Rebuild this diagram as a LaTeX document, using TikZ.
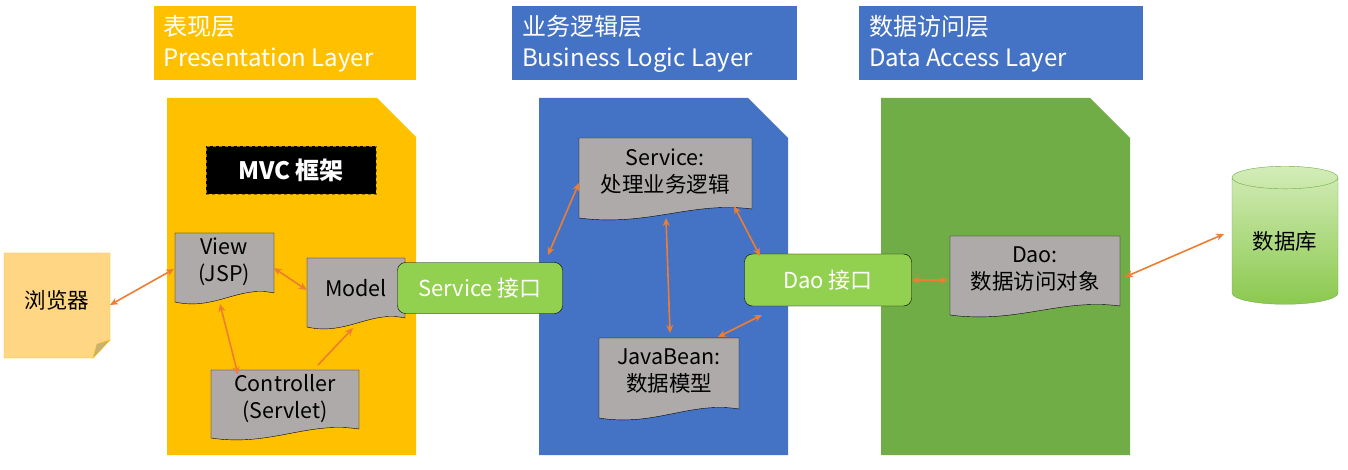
\documentclass[tikz,border=0pt]{standalone}
\usepackage{fontspec}
\setmainfont{Noto Sans CJK SC}
\usetikzlibrary{arrows.meta,shapes.geometric}
\definecolor{ylw}{HTML}{FFC000}
\definecolor{blu}{HTML}{4472C4}
\definecolor{grn}{HTML}{70AD47}
\definecolor{lgrn}{HTML}{92D050}
\definecolor{gry}{HTML}{AEAAAA}
\definecolor{org}{HTML}{ED7D31}
\definecolor{note}{HTML}{FFD683}
\begin{document}
\begin{tikzpicture}[x=1pt,y=-1pt,
  hdr/.style={anchor=west,text=white,font=\fontsize{24}{31}\selectfont,align=left,inner sep=0pt},
  doc/.style={minimum width=#1,inner sep=0pt,font=\fontsize{21.5}{27}\selectfont,align=center},
  iface/.style={draw=black,fill=lgrn,rounded corners=8pt,text=white,font=\fontsize{22}{26}\selectfont,inner sep=0pt},
  arr/.style={draw=org,line width=1.6pt,{Stealth[length=8pt,width=7pt]}-{Stealth[length=8pt,width=7pt]}},
  arr1/.style={draw=org,line width=1.6pt,-{Stealth[length=8pt,width=7pt]}}]
\useasboundingbox (0,0) rectangle (1348,470);
% headers
\fill[ylw] (154,6) rectangle (416,80);
\node[hdr] (h1) at (163,44) {表现层\\Presentation Layer};
\fill[blu] (512,6) rectangle (797,80);
\node[hdr] (h2) at (522,44) {业务逻辑层\\Business Logic Layer};
\fill[blu] (859,6) rectangle (1143,80);
\node[hdr] (h3) at (869,44) {数据访问层\\Data Access Layer};
% panels
\fill[ylw] (167,98) -- (377,98) -- (416,137) -- (416,455) -- (167,455) -- cycle;
\fill[blu] (539,98) -- (748,98) -- (788,138) -- (788,455) -- (539,455) -- cycle;
\fill[grn] (881,98) -- (1090,98) -- (1130,138) -- (1130,455) -- (881,455) -- cycle;
% MVC
\node[fill=black,draw=ylw!60!black,dashed,minimum width=170pt,minimum height=48pt,text=white,font=\bfseries\fontsize{24}{28}\selectfont] (mvc) at (291,170) {MVC 框架};
% browser
\fill[note,draw=ylw] (4,253) -- (110,253) -- (110,340) -- (93,358) -- (4,358) -- cycle;
\fill[gry!70!ylw,draw=ylw] (110,340) -- (97,344) -- (93,358) -- cycle;
\node[font=\fontsize{21.5}{26}\selectfont,minimum width=106pt,minimum height=100pt] (br) at (57,300) {浏览器};
% document shapes
\newcommand{\docshape}[4]{% L T R B(=left bottom)
  \fill[gry,draw=black] (#1,#2) -- (#3,#2) -- (#3,#4-12) .. controls ({#3-0.35*(#3-#1)},#4-20) and ({#1+0.4*(#3-#1)},#4+6) .. (#1,#4-3) -- cycle;}
\docshape{175}{233}{274}{305}
\node[doc=99pt] (view) at (224,262) {View\\(JSP)};
\docshape{307}{258}{405}{330}
\node[doc=98pt] (model) at (356,288) {Model};
\docshape{211}{370}{359}{441}
\node[doc=148pt] (ctrl) at (285,399) {Controller\\(Servlet)};
\docshape{579}{138}{752}{221}
\node[doc=173pt] (svc) at (665,172) {Service:\\处理业务逻辑};
\docshape{599}{338}{739}{421}
\node[doc=140pt] (bean) at (669,371) {JavaBean:\\数据模型};
\docshape{950}{236}{1120}{318}
\node[doc=170pt] (dao) at (1035,269) {Dao:\\数据访问对象};
% interfaces
\node[iface,minimum width=165pt,minimum height=51pt] (si) at (480,288) {Service 接口};
\node[iface,minimum width=167pt,minimum height=52pt] (di) at (828,280) {Dao 接口};
% database
\node[cylinder,shape border rotate=90,draw=grn,top color=lgrn!40,bottom color=lgrn!80!grn,minimum width=106pt,minimum height=138pt,aspect=0.35,font=\fontsize{21.5}{26}\selectfont,inner sep=0pt] (db) at (1285,241) {数据库};
% arrows
\coordinate (a1) at (110,305); \coordinate (a2) at (174,269);
\draw[arr] (a1) -- (a2);
\draw[arr] (view.east |- 0,268) -- (model.west |- 0,290);
\draw[arr] (220,304) -- (ctrl.north -| 238,0);
\draw[arr1] (318,365) -- (353,328);
\coordinate (b1) at (548,255); \coordinate (b2) at (579,183);
\draw[arr] (b1) -- (b2);
\coordinate (c1) at (734,206); \coordinate (c2) at (760,256);
\draw[arr] (c1) -- (c2);
\coordinate (d1) at (666,218); \coordinate (d2) at (670,333);
\draw[arr] (d1) -- (d2);
\coordinate (e1) at (718,337); \coordinate (e2) at (762,315);
\draw[arr] (e1) -- (e2);
\draw[arr] (di.east) -- (948,280);
\coordinate (f1) at (1125,277); \coordinate (f2) at (1224,234);
\draw[arr] (f1) -- (f2);
\end{tikzpicture}
\end{document}
